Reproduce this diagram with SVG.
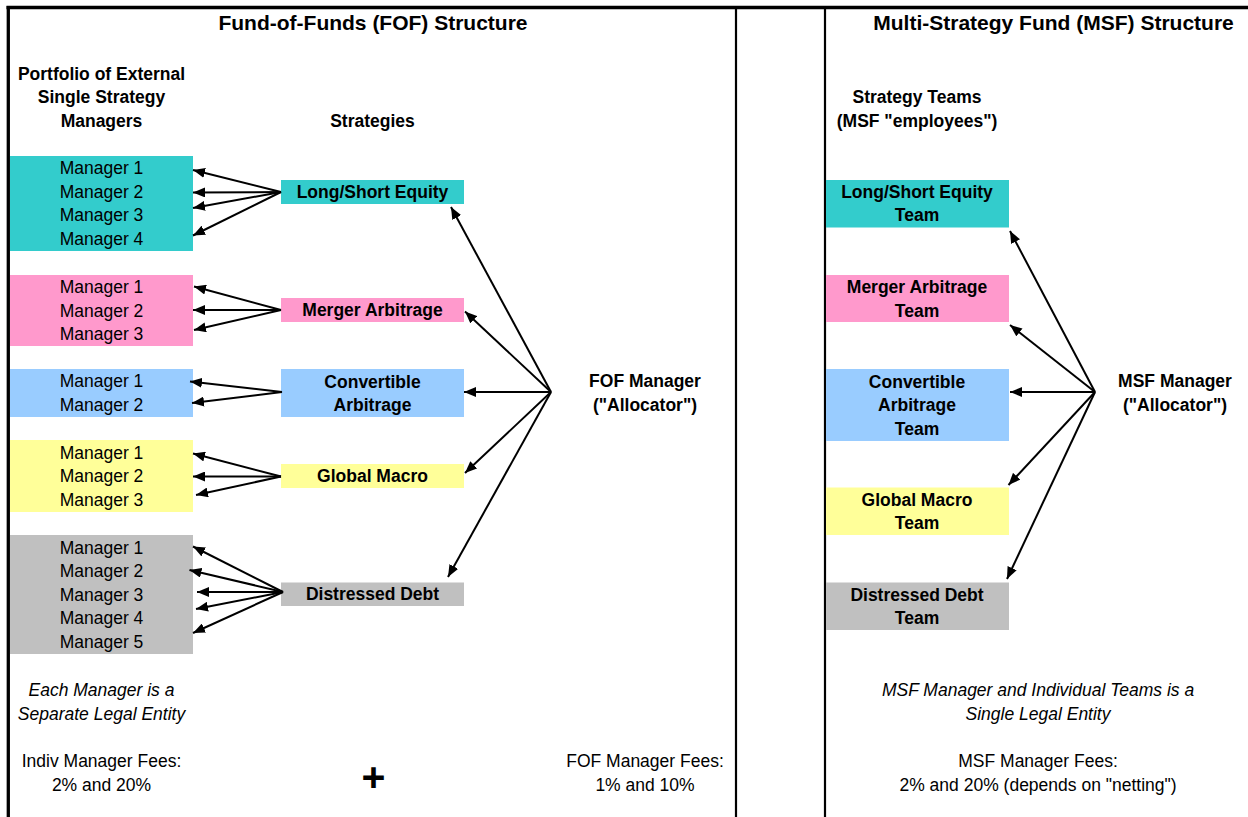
<svg xmlns="http://www.w3.org/2000/svg" width="1248" height="817" viewBox="0 0 1248 817">
<defs>
<marker id="ah" viewBox="0 0 12 10" refX="12" refY="5" markerWidth="12" markerHeight="10" markerUnits="userSpaceOnUse" orient="auto">
<path d="M0,0 L12,5 L0,10 z" fill="#000"/>
</marker>
<style>
text{font-family:"Liberation Sans",Arial,sans-serif;font-size:17.5px;fill:#000;text-anchor:middle}
.t{font-size:21px;font-weight:bold}
.b{font-weight:bold}
.i{font-style:italic}
.plus{font-size:41px;font-weight:bold}
.teal{fill:#33CCCC}.pink{fill:#FF99CC}.blue{fill:#99CCFF}.yel{fill:#FFFF99}.gray{fill:#C0C0C0}
.c line{stroke:#000;stroke-width:2;marker-end:url(#ah)}
.frame{stroke:#000;fill:none}
</style>
</defs>
<rect width="1248" height="817" fill="#fff"/>
<g id="frame">
<line class="frame" x1="6.5" y1="7.5" x2="1248" y2="7.5" stroke-width="3.5"/>
<line class="frame" x1="8.3" y1="6" x2="8.3" y2="817" stroke-width="3.3"/>
<line class="frame" x1="736" y1="7" x2="736" y2="817" stroke-width="2.2"/>
<line class="frame" x1="825" y1="7" x2="825" y2="817" stroke-width="2.2"/>
</g>
<g id="titles">
<text class="t" x="373" y="30">Fund-of-Funds (FOF) Structure</text>
<text class="t" x="1053.5" y="30">Multi-Strategy Fund (MSF) Structure</text>
<text class="b" x="101.5" y="79.5">Portfolio of External</text>
<text class="b" x="101.5" y="103">Single Strategy</text>
<text class="b" x="101.5" y="126.5">Managers</text>
<text class="b" x="372.5" y="126.5">Strategies</text>
<text class="b" x="917" y="102.5">Strategy Teams</text>
<text class="b" x="917" y="126.5">(MSF "employees")</text>
</g>
<g id="mgr-ls">
<rect class="teal" x="10" y="156" width="183" height="95"/>
<text x="101.5" y="174">Manager 1</text>
<text x="101.5" y="197.5">Manager 2</text>
<text x="101.5" y="221">Manager 3</text>
<text x="101.5" y="244.5">Manager 4</text>
</g>
<g id="mgr-ma">
<rect class="pink" x="10" y="275" width="183" height="71"/>
<text x="101.5" y="293">Manager 1</text>
<text x="101.5" y="316.5">Manager 2</text>
<text x="101.5" y="340">Manager 3</text>
</g>
<g id="mgr-ca">
<rect class="blue" x="10" y="369" width="183" height="48"/>
<text x="101.5" y="387">Manager 1</text>
<text x="101.5" y="410.5">Manager 2</text>
</g>
<g id="mgr-gm">
<rect class="yel" x="10" y="440" width="183" height="72"/>
<text x="101.5" y="458.5">Manager 1</text>
<text x="101.5" y="482">Manager 2</text>
<text x="101.5" y="505.5">Manager 3</text>
</g>
<g id="mgr-dd">
<rect class="gray" x="10" y="535" width="183" height="119"/>
<text x="101.5" y="553.5">Manager 1</text>
<text x="101.5" y="577">Manager 2</text>
<text x="101.5" y="600.5">Manager 3</text>
<text x="101.5" y="624">Manager 4</text>
<text x="101.5" y="647.5">Manager 5</text>
</g>
<g id="str-ls">
<rect class="teal" x="281" y="180" width="183" height="24"/>
<text class="b" x="372.5" y="197.5">Long/Short Equity</text>
</g>
<g id="str-ma">
<rect class="pink" x="281" y="298" width="183" height="24"/>
<text class="b" x="372.5" y="316">Merger Arbitrage</text>
</g>
<g id="str-ca">
<rect class="blue" x="281" y="369" width="183" height="48"/>
<text class="b" x="372.5" y="387.5">Convertible</text>
<text class="b" x="372.5" y="411">Arbitrage</text>
</g>
<g id="str-gm">
<rect class="yel" x="281" y="464" width="183" height="24"/>
<text class="b" x="372.5" y="482">Global Macro</text>
</g>
<g id="str-dd">
<rect class="gray" x="281" y="582.5" width="183" height="23.5"/>
<text class="b" x="372.5" y="600">Distressed Debt</text>
</g>
<g id="fof-manager">
<text class="b" x="645" y="387">FOF Manager</text>
<text class="b" x="645" y="410.5">("Allocator")</text>
</g>
<g id="team-ls">
<rect class="teal" x="826" y="180" width="183" height="47.5"/>
<text class="b" x="917" y="197.5">Long/Short Equity</text>
<text class="b" x="917" y="221">Team</text>
</g>
<g id="team-ma">
<rect class="pink" x="826" y="275" width="183" height="47"/>
<text class="b" x="917" y="293">Merger Arbitrage</text>
<text class="b" x="917" y="316.5">Team</text>
</g>
<g id="team-ca">
<rect class="blue" x="826" y="369" width="183" height="72"/>
<text class="b" x="917" y="387.5">Convertible</text>
<text class="b" x="917" y="411">Arbitrage</text>
<text class="b" x="917" y="434.5">Team</text>
</g>
<g id="team-gm">
<rect class="yel" x="826" y="487.5" width="183" height="47.5"/>
<text class="b" x="917" y="505.5">Global Macro</text>
<text class="b" x="917" y="529">Team</text>
</g>
<g id="team-dd">
<rect class="gray" x="826" y="582.5" width="183" height="47.5"/>
<text class="b" x="917" y="600.5">Distressed Debt</text>
<text class="b" x="917" y="624">Team</text>
</g>
<g id="msf-manager">
<text class="b" x="1175" y="387">MSF Manager</text>
<text class="b" x="1175" y="410.5">("Allocator")</text>
</g>
<g id="notes">
<text class="i" x="101.5" y="696">Each Manager is a</text>
<text class="i" x="101.5" y="719.5">Separate Legal Entity</text>
<text x="101.5" y="767">Indiv Manager Fees:</text>
<text x="101.5" y="790.5">2% and 20%</text>
<text class="plus" x="373.5" y="791">+</text>
<text x="645" y="767">FOF Manager Fees:</text>
<text x="645" y="790.5">1% and 10%</text>
<text class="i" x="1038" y="696">MSF Manager and Individual Teams is a</text>
<text class="i" x="1038" y="719.5">Single Legal Entity</text>
<text x="1038" y="767">MSF Manager Fees:</text>
<text x="1038" y="790.5">2% and 20% (depends on "netting")</text>
</g>
<g id="connectors" class="c">
<line x1="281" y1="192" x2="193" y2="170"/>
<line x1="281" y1="192" x2="193" y2="192.5"/>
<line x1="281" y1="192" x2="193" y2="208"/>
<line x1="281" y1="192" x2="193" y2="235.5"/>
<line x1="281" y1="310" x2="194" y2="286.5"/>
<line x1="281" y1="310" x2="193" y2="310"/>
<line x1="281" y1="310" x2="194" y2="330"/>
<line x1="282" y1="392" x2="190" y2="381.5"/>
<line x1="282" y1="392" x2="192" y2="403"/>
<line x1="281" y1="476.5" x2="193" y2="453.5"/>
<line x1="281" y1="476.5" x2="193" y2="476.5"/>
<line x1="281" y1="476.5" x2="196" y2="495"/>
<line x1="283" y1="592" x2="193" y2="546.5"/>
<line x1="283" y1="592" x2="189.5" y2="570"/>
<line x1="283" y1="592" x2="197" y2="592"/>
<line x1="283" y1="592" x2="196" y2="609"/>
<line x1="283" y1="592" x2="193" y2="633"/>
<line x1="551" y1="392" x2="451" y2="207"/>
<line x1="551" y1="392" x2="465" y2="311.5"/>
<line x1="551" y1="392" x2="464" y2="392"/>
<line x1="551" y1="392" x2="465" y2="473"/>
<line x1="551" y1="392" x2="448" y2="577"/>
<line x1="1095" y1="392" x2="1010" y2="231"/>
<line x1="1095" y1="392" x2="1010" y2="325"/>
<line x1="1095" y1="392" x2="1010" y2="392"/>
<line x1="1095" y1="392" x2="1008.5" y2="485"/>
<line x1="1095" y1="392" x2="1007" y2="579"/>
</g>
</svg>
